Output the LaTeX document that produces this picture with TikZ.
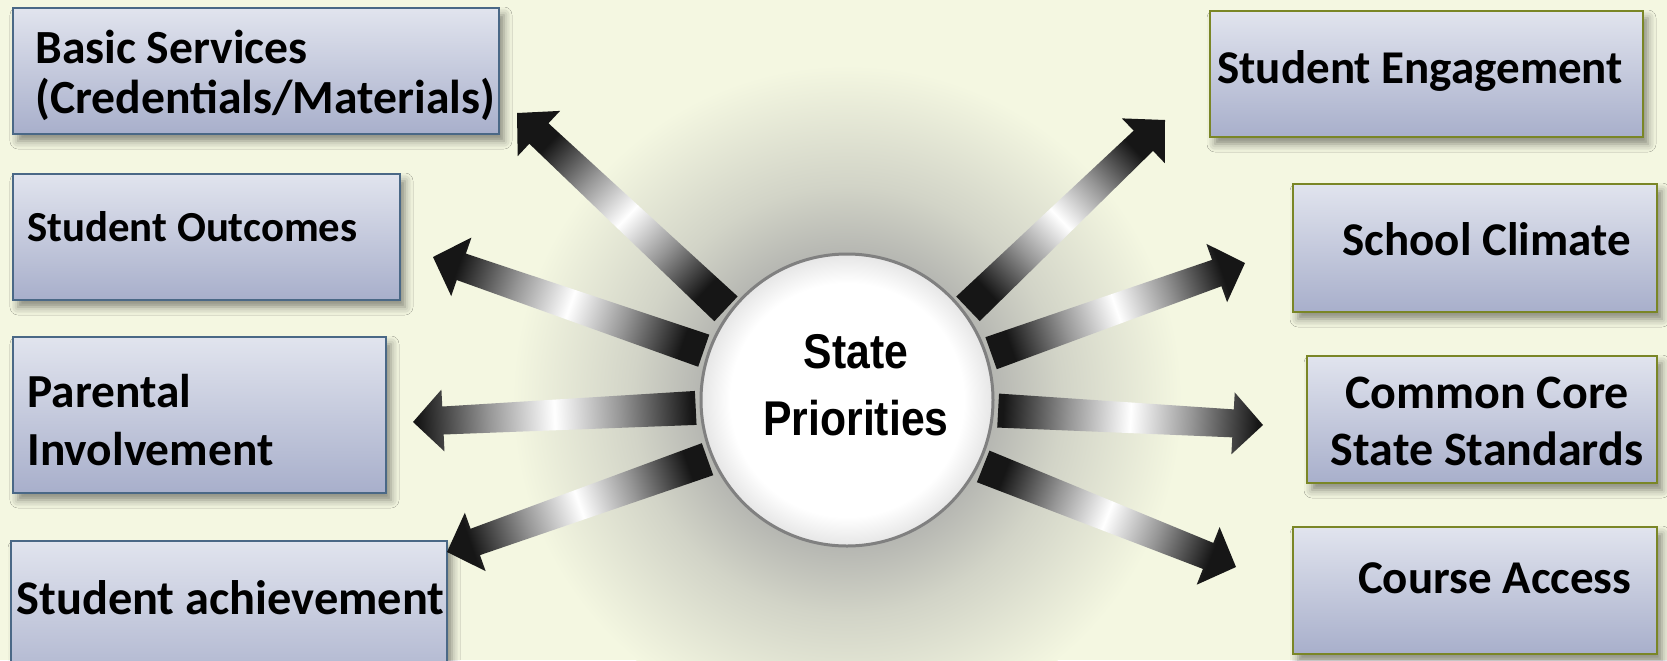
\documentclass[tikz,border=0pt]{standalone}
\usepackage{fontspec}
\setmainfont{Carlito}
\newfontfamily\hubfont{Liberation Sans}[FakeStretch=0.875]
\usetikzlibrary{calc,fit,shadows.blur}

\definecolor{paper}{RGB}{244,247,225}
\definecolor{glow}{RGB}{182,183,178}
\definecolor{boxtop}{RGB}{225,228,238}
\definecolor{boxbot}{RGB}{168,175,203}
\definecolor{slateedge}{RGB}{74,104,134}
\definecolor{oliveedge}{RGB}{122,134,38}
\definecolor{rayend}{RGB}{22,22,22}
\definecolor{raymid}{RGB}{150,150,150}
\definecolor{hubedge}{RGB}{128,128,128}

\pgfdeclarehorizontalshading{rayshade}{100bp}{color(0bp)=(rayend); color(25bp)=(rayend); color(38bp)=(raymid); color(50bp)=(white); color(62bp)=(raymid); color(75bp)=(rayend); color(100bp)=(rayend)}
\pgfdeclareradialshading{haze}{\pgfpoint{0bp}{0bp}}{color(0bp)=(glow); color(11bp)=(glow); color(16bp)=(glow!55!paper); color(25bp)=(paper); color(50bp)=(paper)}
\pgfdeclareradialshading{hubface}{\pgfpoint{0bp}{0bp}}{color(0bp)=(white); color(20bp)=(white); color(25bp)=(black!10); color(50bp)=(black!10)}

\tikzset{
  card/.style = {inner sep=0pt, line width=1pt, top color=boxtop, bottom color=boxbot,
    blur shadow={shadow xshift=2.5pt, shadow yshift=-3.5pt, shadow blur radius=4pt, shadow opacity=45}},
  leftcard/.style = {card, draw=slateedge},
  rightcard/.style = {card, draw=oliveedge, line width=1.3pt},
  cardtext/.style = {inner sep=0pt, font=\bfseries\fontsize{#1}{#1}\selectfont},
  cardtext/.default = {23.5}
}

% one shaded arrow: start angle on the hub, tip, shading angle
\newcommand\ray[3]{%
  \coordinate (rs) at ($(hub.#1)!-2pt!(hub.center)$);
  \coordinate (neck) at ($(#2)!15pt!(rs)$);
  \shade[shading=rayshade, shading angle=#3]
    ($(rs)!8.5pt!90:(#2)$) -- ($(neck)!7pt!90:(#2)$) -- ($(neck)!15.5pt!90:(#2)$) -- (#2)
    -- ($(neck)!15.5pt!-90:(#2)$) -- ($(neck)!7pt!-90:(#2)$) -- ($(rs)!8.5pt!-90:(#2)$) -- cycle;
}

\begin{document}
\begin{tikzpicture}[x=0.5pt,y=-0.5pt]
  \useasboundingbox (0,0) rectangle (1667,660);
  \clip (0,0) rectangle (1667,660);
  \fill[paper] (0,0) rectangle (1667,660);

  % haze behind the hub
  \coordinate (hubc) at (847,400);
  \shade[shading=haze] (hubc) circle[radius=335];

  % left column
  \node[leftcard, fit={(13,8) (499,134)}] (bs) {};
  \node[leftcard, fit={(13,174) (400,300)}] (so) {};
  \node[leftcard, fit={(13,337) (386,493)}] (pi) {};
  \node[leftcard, fit={(11,541) (447,700)}] (sa) {};

  \node[align=left, anchor=base west, inner sep=0pt,
        font=\bfseries\fontsize{23.8}{25}\selectfont] (bstext) at (35,113)
    {Basic Services\\(Credentials/Materials)};
  \node[cardtext={21.4}, anchor=base west] (sotext) at (27,241) {Student Outcomes};
  \node[align=left, anchor=base west, inner sep=0pt,
        font=\bfseries\fontsize{23.7}{29}\selectfont] (pitext) at (27,465)
    {Parental\\Involvement};
  \node[cardtext={24.2}, anchor=base west] (satext) at (16,614) {Student achievement};

  % right column
  \node[rightcard, fit={(1210,11) (1643,137)}] (se) {};
  \node[rightcard, fit={(1293,184) (1657,312)}] (sc) {};
  \node[rightcard, fit={(1307,356) (1657,483)}] (cc) {};
  \node[rightcard, fit={(1293,527) (1657,654)}] (ca) {};

  \node[cardtext, anchor=base west] (setext) at (1217,83) {Student Engagement};
  \node[cardtext, anchor=base east] (sctext) at (1631,255) {School Climate};
  \node[align=center, anchor=base, inner sep=0pt,
        font=\bfseries\fontsize{24}{28.5}\selectfont] (cctext) at (1487,465)
    {Common Core\\State Standards};
  \node[cardtext, anchor=base east] (catext) at (1632,593) {Course Access};

  % hub
  \node[circle, shade, shading=hubface, draw=hubedge, line width=1.5pt,
        minimum size=146pt, inner sep=0pt] (hub) at (hubc) {};
  \node[align=center, anchor=base, inner sep=0pt,
        font=\hubfont\bfseries\fontsize{24.4}{33.5}\selectfont] (hubtext) at (856,435)
    {State\\Priorities};

  % arrow tips
  \coordinate (tbs) at (517,113);
  \coordinate (tso) at (433,257);
  \coordinate (tpi) at (413,422);
  \coordinate (tsa) at (447,552);
  \coordinate (tse) at (1165,120);
  \coordinate (tsc) at (1245,263);
  \coordinate (tcc) at (1263,425);
  \coordinate (tca) at (1236,567);

  \foreach \a/\t/\s in {143.5/tbs/136.6, 161.8/tso/160.5, 183.8/tpi/182.4, 203.5/tsa/199.3,
                         37.5/tse/43.6, 18.3/tsc/19.4, -4.6/tcc/-2.8, -26.1/tca/-21.6}
    \ray{\a}{\t}{\s};
\end{tikzpicture}
\end{document}
